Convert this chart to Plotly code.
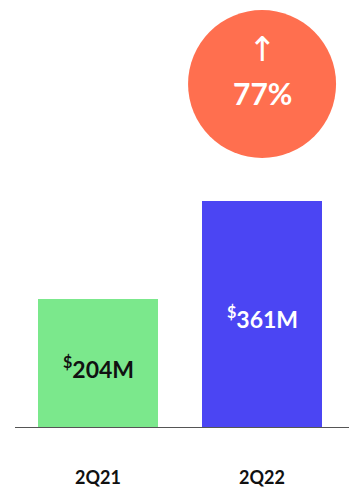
import plotly.graph_objects as go

categories = ["2Q21", "2Q22"]
revenue = [204, 361]
value_labels = ["<sup>$</sup>204M", "<sup>$</sup>361M"]
bar_colors = ["#7BE88C", "#4B45F3"]
label_colors = ["#111111", "#FFFFFF"]
growth_label = "77%"

FONT = "Lato"
px_per_unit = 0.6265
plot_h = 427

xs = list(range(len(categories)))

fig = go.Figure()
fig.add_trace(go.Bar(
    x=xs, y=revenue, width=0.732,
    marker=dict(color=bar_colors, line=dict(width=0)),
    hoverinfo="skip",
))

bubble_y = (plot_h - 84) / px_per_unit
fig.add_trace(go.Scatter(
    x=[xs[-1]], y=[bubble_y], mode="markers",
    marker=dict(size=148, color="#FF6F4F", line=dict(width=0)),
    cliponaxis=False, hoverinfo="skip",
))

annotations = []
for x, v, t, c in zip(xs, revenue, value_labels, label_colors):
    annotations.append(dict(
        x=x, y=v / 2, text=t, showarrow=False,
        font=dict(family=FONT, size=23, color=c, weight="bold"),
        yshift=-4,
    ))
annotations.append(dict(
    x=xs[-1], y=bubble_y, text="↑", showarrow=False,
    font=dict(family="DejaVu Sans", size=34, color="white"),
    yshift=35,
))
annotations.append(dict(
    x=xs[-1], y=bubble_y, text=growth_label, showarrow=False,
    font=dict(family=FONT, size=30, color="white", weight="bold"),
    yshift=-9,
))

fig.update_layout(
    width=351, height=489,
    margin=dict(l=15, r=2, t=0, b=62),
    paper_bgcolor="white", plot_bgcolor="white",
    showlegend=False,
    annotations=annotations,
    bargap=0,
    xaxis=dict(
        range=[-0.506, 1.530], tickvals=xs, ticktext=categories,
        showgrid=False, zeroline=False, showline=True,
        linecolor="#555555", linewidth=1, ticks="",
        tickfont=dict(family=FONT, size=18, color="#111111", weight="bold"),
        ticklabelstandoff=34, fixedrange=True, automargin=False,
    ),
    yaxis=dict(
        range=[0, plot_h / px_per_unit], visible=False,
        showgrid=False, zeroline=False, fixedrange=True, automargin=False,
    ),
)

fig.write_html("out.html")
